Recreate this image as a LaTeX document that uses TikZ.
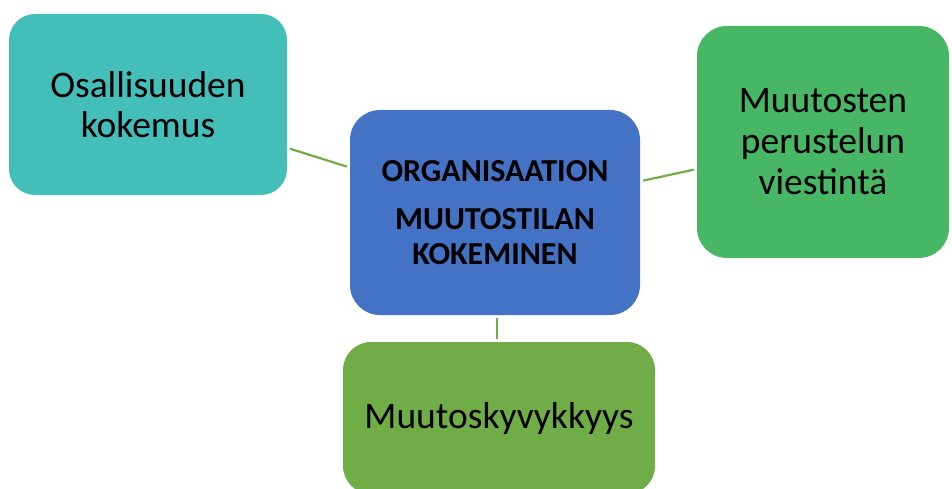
\documentclass[tikz,border=0pt]{standalone}
\usepackage{fontspec}
\setmainfont{Carlito}
\definecolor{cteal}{HTML}{44BEB8}
\definecolor{cblue}{HTML}{4472C4}
\definecolor{cgreenA}{HTML}{47B766}
\definecolor{cgreenB}{HTML}{70AD47}
\begin{document}
\begin{tikzpicture}[x=1pt,y=-1pt,
  boxstyle/.style={rectangle, rounded corners=28pt, inner sep=0pt, align=center, text=black},
  conn/.style={draw=cgreenB, line width=2.2pt, shorten <=3pt, shorten >=3pt}]
\useasboundingbox (0,0) rectangle (952,489);
\clip (0,0) rectangle (952,489);
\node[boxstyle, fill=cteal, minimum width=278pt, minimum height=181pt, rounded corners=26pt,
  font=\fontsize{37.5}{40}\selectfont] (teal) at (148,104.5) {Osallisuuden\\kokemus};
\node[boxstyle, fill=cblue, minimum width=290pt, minimum height=205pt, rounded corners=30pt,
  font=\bfseries\fontsize{32}{35}\selectfont] (center) at (495,212.5) {ORGANISAATION\\[13pt]MUUTOSTILAN\\KOKEMINEN};
\node[boxstyle, fill=cgreenA, minimum width=252pt, minimum height=232pt, rounded corners=30pt,
  font=\fontsize{37.5}{41}\selectfont] (right) at (823,142) {Muutosten\\perustelun\\viestintä};
\node[boxstyle, fill=cgreenB, minimum width=312pt, minimum height=152pt, rounded corners=28pt,
  font=\fontsize{37.5}{40}\selectfont] (bottom) at (499,418) {Muutoskyvykkyys};
\draw[conn] (teal) -- (center);
\draw[conn] (center) -- (right);
\draw[conn] (center.south -| 497,0) -- (bottom.north -| 497,0);
\end{tikzpicture}
\end{document}
